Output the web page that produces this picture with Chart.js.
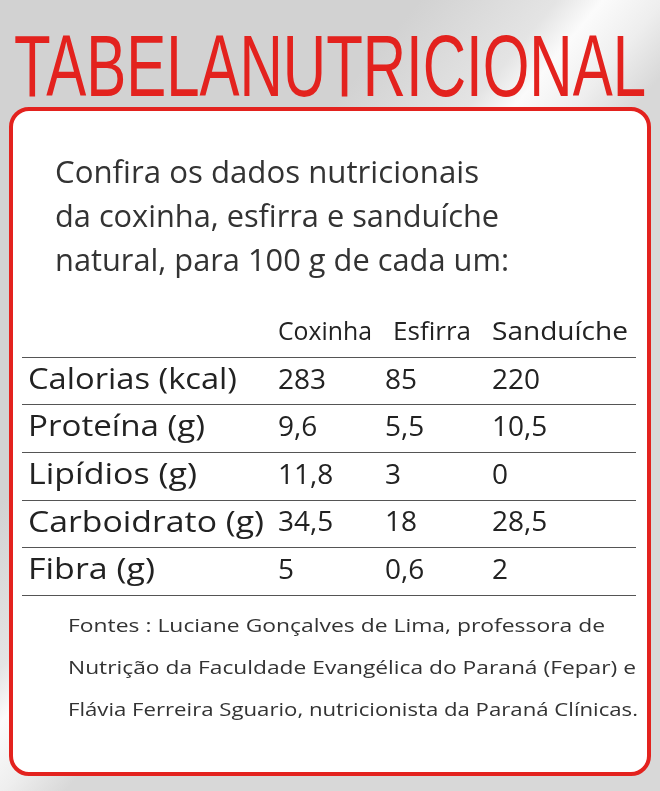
<!DOCTYPE html>
<html><head><meta charset="utf-8">
<script src="https://cdn.jsdelivr.net/npm/chart.js@4"></script>
<style>html,body{margin:0;padding:0;background:#d6d6d6}canvas{display:block}</style>
</head><body>
<canvas id="c" width="660" height="791"></canvas>
<script>
const title = 'TABELANUTRICIONAL';
const introLines = ['Confira os dados nutricionais', 'da coxinha, esfirra e sanduíche', 'natural, para 100 g de cada um:'];
const columns = ['Coxinha', 'Esfirra', 'Sanduíche'];
const rowLabels = ['Calorias', 'Proteína', 'Lipídios', 'Carboidrato', 'Fibra'];
const rowUnits = ['(kcal)', '(g)', '(g)', '(g)', '(g)'];
const coxinha = ['283', '9,6', '11,8', '34,5', '5'];
const esfirra = ['85', '5,5', '3', '18', '0,6'];
const sanduiche = ['220', '10,5', '0', '28,5', '2'];
const sources = ['Fontes : Luciane Gonçalves de Lima, professora de', 'Nutrição da Faculdade Evangélica do Paraná (Fepar) e', 'Flávia Ferreira Sguario, nutricionista da Paraná Clínicas.'];

const yCats = ['header', ...rowLabels];
const values = [coxinha, esfirra, sanduiche];

function rr(ctx,x,y,w,h,r){ctx.beginPath();ctx.moveTo(x+r,y);ctx.arcTo(x+w,y,x+w,y+h,r);ctx.arcTo(x+w,y+h,x,y+h,r);ctx.arcTo(x,y+h,x,y,r);ctx.arcTo(x,y,x+w,y,r);ctx.closePath();}
function fit(ctx, t, x, y, w) {
  const m = ctx.measureText(t).width;
  ctx.save(); ctx.translate(x, y); ctx.scale(w / m, 1); ctx.fillText(t, 0, 0); ctx.restore();
}

const tablePlugin = {
  id: 'table',
  beforeDraw(chart) {
    const ctx = chart.ctx;
    ctx.save();
    const g = ctx.createLinearGradient(420, 0, 600, 150);
    g.addColorStop(0, '#d2d2d2'); g.addColorStop(0.45, '#e4e4e4'); g.addColorStop(0.6, '#fbfbfb'); g.addColorStop(0.8, '#eeeeee'); g.addColorStop(1, '#d8d8d8');
    ctx.fillStyle = g; ctx.fillRect(0, 0, 660, 791);
    ctx.fillStyle = '#e3221e';
    ctx.font = '88px "Liberation Sans Narrow","Liberation Sans",sans-serif';
    ctx.textBaseline = 'alphabetic';
    fit(ctx, title, 14, 96, 632);
    rr(ctx, 11, 109, 638, 665, 18);
    ctx.fillStyle = '#fff'; ctx.fill();
    ctx.lineWidth = 4; ctx.strokeStyle = '#e3221e'; ctx.stroke();
    ctx.fillStyle = '#333';
    ctx.font = '31px "Open Sans",sans-serif';
    const iw = [424, 444, 454];
    introLines.forEach((t, i) => fit(ctx, t, 55, 183 + i * 44, iw[i]));
    ctx.font = '19px "Open Sans",sans-serif';
    const sw = [537, 568, 570];
    sources.forEach((t, i) => fit(ctx, t, 68, 632 + i * 42, sw[i]));
    ctx.restore();
  },
  afterDraw(chart) {
    const ctx = chart.ctx, xs = chart.scales.x, ys = chart.scales.y;
    ctx.save();
    ctx.fillStyle = '#222'; ctx.textBaseline = 'middle';
    const step = ys.getPixelForValue(1) - ys.getPixelForValue(0);
    ctx.strokeStyle = '#555'; ctx.lineWidth = 1.2;
    for (let i = 0; i < yCats.length; i++) {
      const y = Math.round(ys.getPixelForValue(i) + step / 2) + 0.5;
      ctx.beginPath(); ctx.moveTo(22, y); ctx.lineTo(636, y); ctx.stroke();
    }
    ctx.font = '25px "Open Sans",sans-serif';
    const hw = [94, 78, 136];
    columns.forEach((c, j) => fit(ctx, c, xs.getPixelForValue(j) + (j === 1 ? 8 : 0), ys.getPixelForValue(0), hw[j]));
    const lw = [209, 177, 169, 236, 127];
    rowLabels.forEach((lab, i) => {
      const y = ys.getPixelForValue(i + 1);
      ctx.font = '29px "Open Sans",sans-serif';
      fit(ctx, lab + ' ' + rowUnits[i], 28, y, lw[i]);
      ctx.font = '28px "Open Sans",sans-serif';
      values.forEach((arr, j) => ctx.fillText(arr[i], xs.getPixelForValue(j), y));
    });
    ctx.restore();
  }
};

new Chart(document.getElementById('c'), {
  type: 'scatter',
  data: { datasets: [{ data: [] }] },
  options: {
    responsive: false, animation: false, devicePixelRatio: 1,
    layout: { padding: { left: 278, right: 168, top: 333, bottom: 220 } },
    plugins: { legend: { display: false }, tooltip: { enabled: false } },
    scales: {
      x: { type: 'category', labels: columns, offset: false, display: false },
      y: { type: 'category', labels: yCats, offset: false, display: false }
    }
  },
  plugins: [tablePlugin]
});
</script>
</body></html>
